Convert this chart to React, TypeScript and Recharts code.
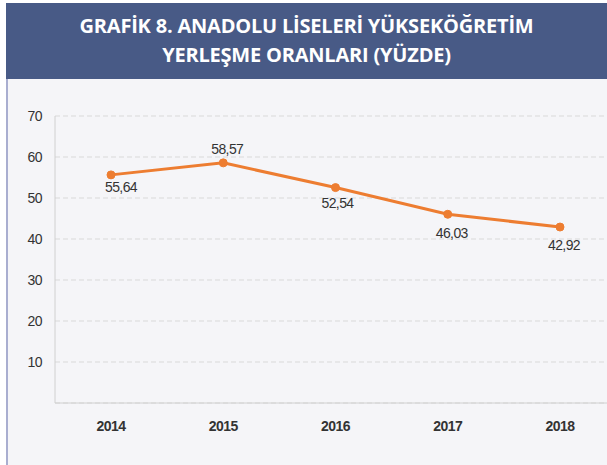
import React from "react";
import { LineChart, Line, XAxis, YAxis, CartesianGrid, LabelList } from "recharts";

const years = ["2014", "2015", "2016", "2017", "2018"];
const rates = [55.64, 58.57, 52.54, 46.03, 42.92];
const yTicks = [10, 20, 30, 40, 50, 60, 70];

const data = years.map((year, i) => ({ year, rate: rates[i] }));

const NUM_FONT = "'Liberation Sans', Arial, sans-serif";

// label offsets relative to each dot (only 2015 sits above the line)
const labelShift = [
  { dx: 10, dy: 17 },
  { dx: 4, dy: -9 },
  { dx: 2, dy: 20 },
  { dx: 4, dy: 24 },
  { dx: 4, dy: 23 },
];

const renderLabel = (props: any) => {
  const { x, y, index, value } = props;
  const s = labelShift[index] || { dx: 0, dy: 16 };
  return (
    <text
      x={x + s.dx}
      y={y + s.dy}
      textAnchor="middle"
      fontSize={14}
      letterSpacing={-0.6}
      fontFamily={NUM_FONT}
      fill="#333333"
    >
      {String(value).replace(".", ",")}
    </text>
  );
};

export default function App() {
  return (
    <div
      style={{
        position: "absolute",
        left: 0,
        top: 0,
        width: 607,
        height: 465,
        overflow: "hidden",
        background: "#ffffff",
      }}
    >
      <div
        style={{
          position: "absolute",
          left: 6,
          top: 3,
          width: 601,
          height: 76,
          background: "#485a86",
          color: "#ffffff",
          fontFamily: "'Open Sans', sans-serif",
          fontWeight: 700,
          fontSize: 20,
          letterSpacing: -0.2,
          lineHeight: "29px",
          textAlign: "center",
          paddingTop: 8,
          boxSizing: "border-box",
        }}
      >
        GRAFİK 8. ANADOLU LİSELERİ YÜKSEKÖĞRETİM
        <br />
        YERLEŞME ORANLARI (YÜZDE)
      </div>
      <div
        style={{
          position: "absolute",
          left: 6,
          top: 79,
          width: 601,
          height: 386,
          background: "#f5f5f8",
          borderLeft: "2px solid #a9aed0",
          boxSizing: "border-box",
        }}
      />
      <div style={{ position: "absolute", left: 0, top: 0 }}>
        <LineChart
          width={616}
          height={465}
          data={data}
          margin={{ top: 116, right: 0, bottom: 32, left: 0 }}
        >
          <CartesianGrid vertical={false} stroke="#d9d9d9" strokeDasharray="5 3" />
          <XAxis
            dataKey="year"
            height={30}
            padding={{ left: 56, right: 56 }}
            axisLine={{ stroke: "#d0d0d0" }}
            tickLine={false}
            tickMargin={12}
            tick={{ fontSize: 14, fontWeight: 700, fill: "#333333", fontFamily: NUM_FONT, letterSpacing: -0.5 }}
          />
          <YAxis
            width={55}
            domain={[0, 70]}
            ticks={yTicks}
            axisLine={{ stroke: "#d0d0d0" }}
            tickLine={false}
            tickMargin={7}
            tick={{ fontSize: 14, fill: "#333333", fontFamily: NUM_FONT, letterSpacing: -0.5 }}
          />
          <Line
            dataKey="rate"
            stroke="#ed7d31"
            strokeWidth={3}
            dot={{ r: 4, fill: "#ed7d31", stroke: "#ed7d31", strokeWidth: 1 }}
            isAnimationActive={false}
          >
            <LabelList dataKey="rate" content={renderLabel} />
          </Line>
        </LineChart>
      </div>
    </div>
  );
}
